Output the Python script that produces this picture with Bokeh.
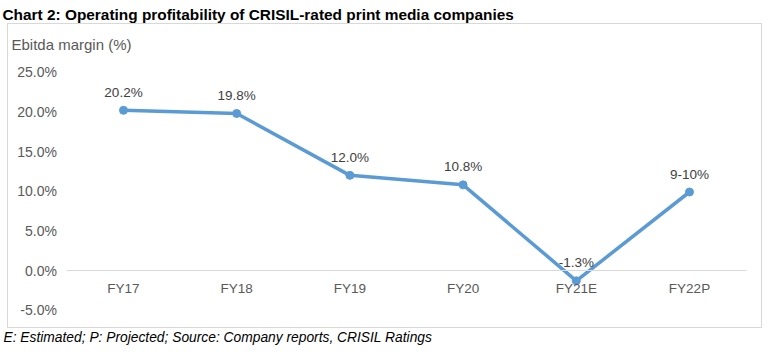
from bokeh.plotting import figure
from bokeh.models import (Range1d, FixedTicker, PrintfTickFormatter,
                          Label, BoxAnnotation, ColumnDataSource)
from bokeh.core.properties import value
from bokeh.embed import file_html
from bokeh.resources import INLINE

categories = ["FY17", "FY18", "FY19", "FY20", "FY21E", "FY22P"]
ebitda_margin = [20.2, 19.8, 12.0, 10.8, -1.3, 9.9]
point_labels = ["20.2%", "19.8%", "12.0%", "10.8%", "-1.3%", "9-10%"]
y_ticks = [-5, 0, 5, 10, 15, 20, 25]

title_text = "Chart 2: Operating profitability of CRISIL-rated print media companies"
axis_title = "Ebitda margin (%)"
footer_text = "E: Estimated; P: Projected; Source: Company reports, CRISIL Ratings"

FONT = "Liberation Sans"
BLUE = "#5B9BD5"

positions = list(range(len(categories)))

W, H = 762, 348
p = figure(width=W, height=H, output_backend="svg", toolbar_location=None,
           x_range=Range1d(-1.0866, 5.6449), y_range=Range1d(-9.836, 34.05),
           min_border=0)
p.outline_line_color = None
p.xgrid.visible = False
p.ygrid.visible = False
p.background_fill_color = "white"

# y axis drawn inside the box, at the left edge of the plot area
p.yaxis.fixed_location = -0.5
p.yaxis.ticker = FixedTicker(ticks=y_ticks)
p.yaxis.formatter = PrintfTickFormatter(format="%.1f%%")
p.yaxis.axis_line_color = None
p.yaxis.major_tick_line_color = None
p.yaxis.minor_tick_line_color = None
p.yaxis.major_tick_out = 0
p.yaxis.major_tick_in = 0
p.yaxis.major_label_standoff = 10
p.yaxis.major_label_text_font = FONT
p.yaxis.major_label_text_font_size = "14px"
p.yaxis.major_label_text_color = "#595959"

# category axis on the zero line
p.xaxis.fixed_location = 0
p.xaxis.bounds = (-0.5, len(categories) - 0.5)
p.xaxis.ticker = FixedTicker(ticks=positions)
p.xaxis.major_label_overrides = {i: c for i, c in zip(positions, categories)}
p.xaxis.axis_line_color = "#D9D9D9"
p.xaxis.axis_line_width = 1
p.xaxis.major_tick_line_color = None
p.xaxis.minor_tick_line_color = None
p.xaxis.major_tick_out = 0
p.xaxis.major_tick_in = 0
p.xaxis.major_label_standoff = 10
p.xaxis.major_label_text_font = FONT
p.xaxis.major_label_text_font_size = "13.5px"
p.xaxis.major_label_text_color = "#595959"

src = ColumnDataSource(dict(x=positions, val=ebitda_margin, lbl=point_labels))
p.line("x", "val", source=src, line_color=BLUE, line_width=3.5)
p.scatter("x", "val", source=src, size=8, fill_color=BLUE, line_color=BLUE)
p.text("x", "val", text="lbl", source=src, text_align="center",
       text_baseline="middle", y_offset=-18, text_font=value(FONT),
       text_font_size="13.5px", text_color="#404040")

# chart border box (screen units, from bottom-left of the frame)
box = BoxAnnotation(left=7, right=761, top=H - 23, bottom=H - 327,
                    left_units="screen", right_units="screen",
                    top_units="screen", bottom_units="screen",
                    fill_alpha=0, line_color="#7F7F7F", line_width=1)
p.add_layout(box)

p.add_layout(Label(x=2, y=H - 14, x_units="screen", y_units="screen", text=title_text,
                   text_font=FONT, text_font_size="15.4px", text_font_style="bold",
                   text_color="#000000", text_baseline="middle", text_align="left"))
p.add_layout(Label(x=11, y=H - 44, x_units="screen", y_units="screen", text=axis_title,
                   text_font=FONT, text_font_size="15px",
                   text_color="#595959", text_baseline="middle", text_align="left"))
p.add_layout(Label(x=3, y=H - 337, x_units="screen", y_units="screen", text=footer_text,
                   text_font=FONT, text_font_size="13.8px", text_font_style="italic",
                   text_color="#000000", text_baseline="middle", text_align="left"))

open("out.html", "w").write(file_html(p, INLINE))
